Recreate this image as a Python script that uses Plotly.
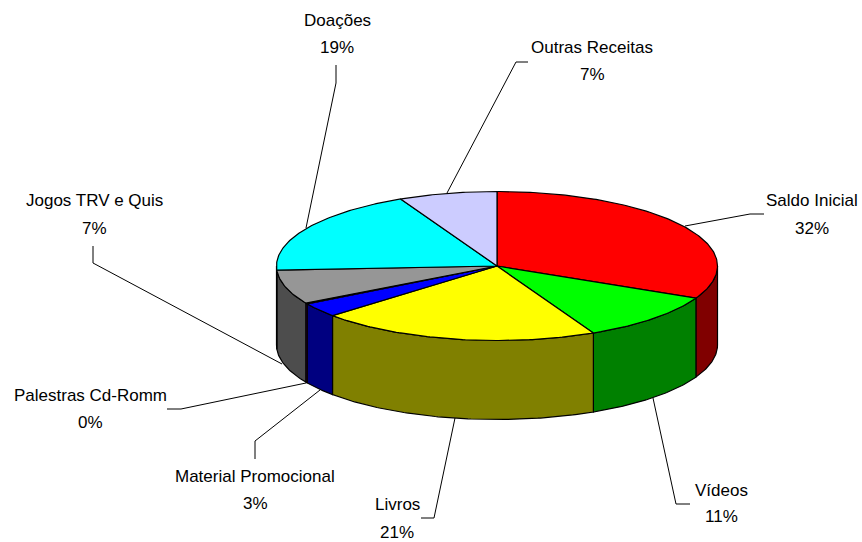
import numpy as np
import plotly.graph_objects as go

categories = ["Saldo Inicial", "Vídeos", "Livros", "Material Promocional",
              "Palestras Cd-Romm", "Jogos TRV e Quis", "Doações", "Outras Receitas"]
values = [32.1, 10.7, 20.6, 3.1, 0.2, 7.4, 18.7, 7.2]
percent_labels = ["32%", "11%", "21%", "3%", "0%", "7%", "19%", "7%"]
top_colors = ["#FF0000", "#00FF00", "#FFFF00", "#0000FF", "#FF00FF", "#969696", "#00FFFF", "#CCCCFF"]
wall_colors = ["#800000", "#008000", "#808000", "#000080", "#800080", "#4D4D4D", "#008080", "#6666CC"]

# Pie projection, in page pixels
CX, CY, RX, RY, DEPTH = 497, 266, 220.5, 74.5, 79
FONT = dict(family="Liberation Sans, Arial, sans-serif", size=17, color="#000000")
EDGE = dict(color="#000000", width=1.2)

# Label centre x, first line y, second line y
label_pos = [(812, 200, 228), (721, 490, 516), (397, 504, 532), (255, 476, 503),
             (90, 395, 422), (94, 200, 228), (337, 20, 47), (592, 47, 74)]
# Leader line waypoints
leaders = [
    [(685, 226), (750, 214), (764, 214)],
    [(653, 398), (676, 504), (690, 504)],
    [(455, 418), (434, 518), (421, 518)],
    [(320, 390), (255, 441), (255, 459)],
    [(306, 383), (181, 409), (167, 409)],
    [(282, 364), (93, 263), (93, 246)],
    [(306, 228), (336, 83), (336, 65)],
    [(447, 193), (516, 62), (528, 62)],
]


def ex(t):
    return CX + RX * np.sin(t)


def ey(t):
    return CY - RY * np.cos(t)


edges = np.radians(np.concatenate([[0], np.cumsum(values)]) * 3.6)
fig = go.Figure()

for pts in leaders:
    fig.add_trace(go.Scatter(x=[p[0] for p in pts], y=[p[1] for p in pts], mode="lines",
                             line=dict(color="#000000", width=1), hoverinfo="skip"))

# Outer walls: only the front half of the rim is visible
for i, cat in enumerate(categories):
    a = max(edges[i], np.pi / 2)
    b = min(edges[i + 1], 3 * np.pi / 2)
    if b <= a:
        continue
    t = np.linspace(a, b, max(int((b - a) * 80), 2))
    xs = np.concatenate([ex(t), ex(t[::-1]), ex(t[:1])])
    ys = np.concatenate([ey(t), ey(t[::-1]) + DEPTH, ey(t[:1])])
    fig.add_trace(go.Scatter(x=xs, y=ys, mode="lines", fill="toself", fillcolor=wall_colors[i],
                             line=EDGE, name=cat, hoverinfo="name"))

# Top faces
for i, cat in enumerate(categories):
    t = np.linspace(edges[i], edges[i + 1], max(int((edges[i + 1] - edges[i]) * 80), 2))
    xs = np.concatenate([[CX], ex(t), [CX]])
    ys = np.concatenate([[CY], ey(t), [CY]])
    fig.add_trace(go.Scatter(x=xs, y=ys, mode="lines", fill="toself", fillcolor=top_colors[i],
                             line=EDGE, name=cat, hoverinfo="name"))

annotations = []
for cat, pct, (lx, y1, y2) in zip(categories, percent_labels, label_pos):
    for text, y in ((cat, y1), (pct, y2)):
        annotations.append(dict(x=lx, y=y, text=text, showarrow=False, xanchor="center",
                                yanchor="middle", font=FONT))

fig.update_layout(
    width=862, height=542, margin=dict(l=0, r=0, t=0, b=0), showlegend=False,
    paper_bgcolor="#FFFFFF", plot_bgcolor="#FFFFFF", annotations=annotations,
    xaxis=dict(range=[0, 862], visible=False, fixedrange=True),
    yaxis=dict(range=[542, 0], visible=False, fixedrange=True),
)
fig.write_html("out.html", config=dict(displayModeBar=False),
               post_script="document.body.style.margin='0';document.documentElement.style.overflow='hidden';")
